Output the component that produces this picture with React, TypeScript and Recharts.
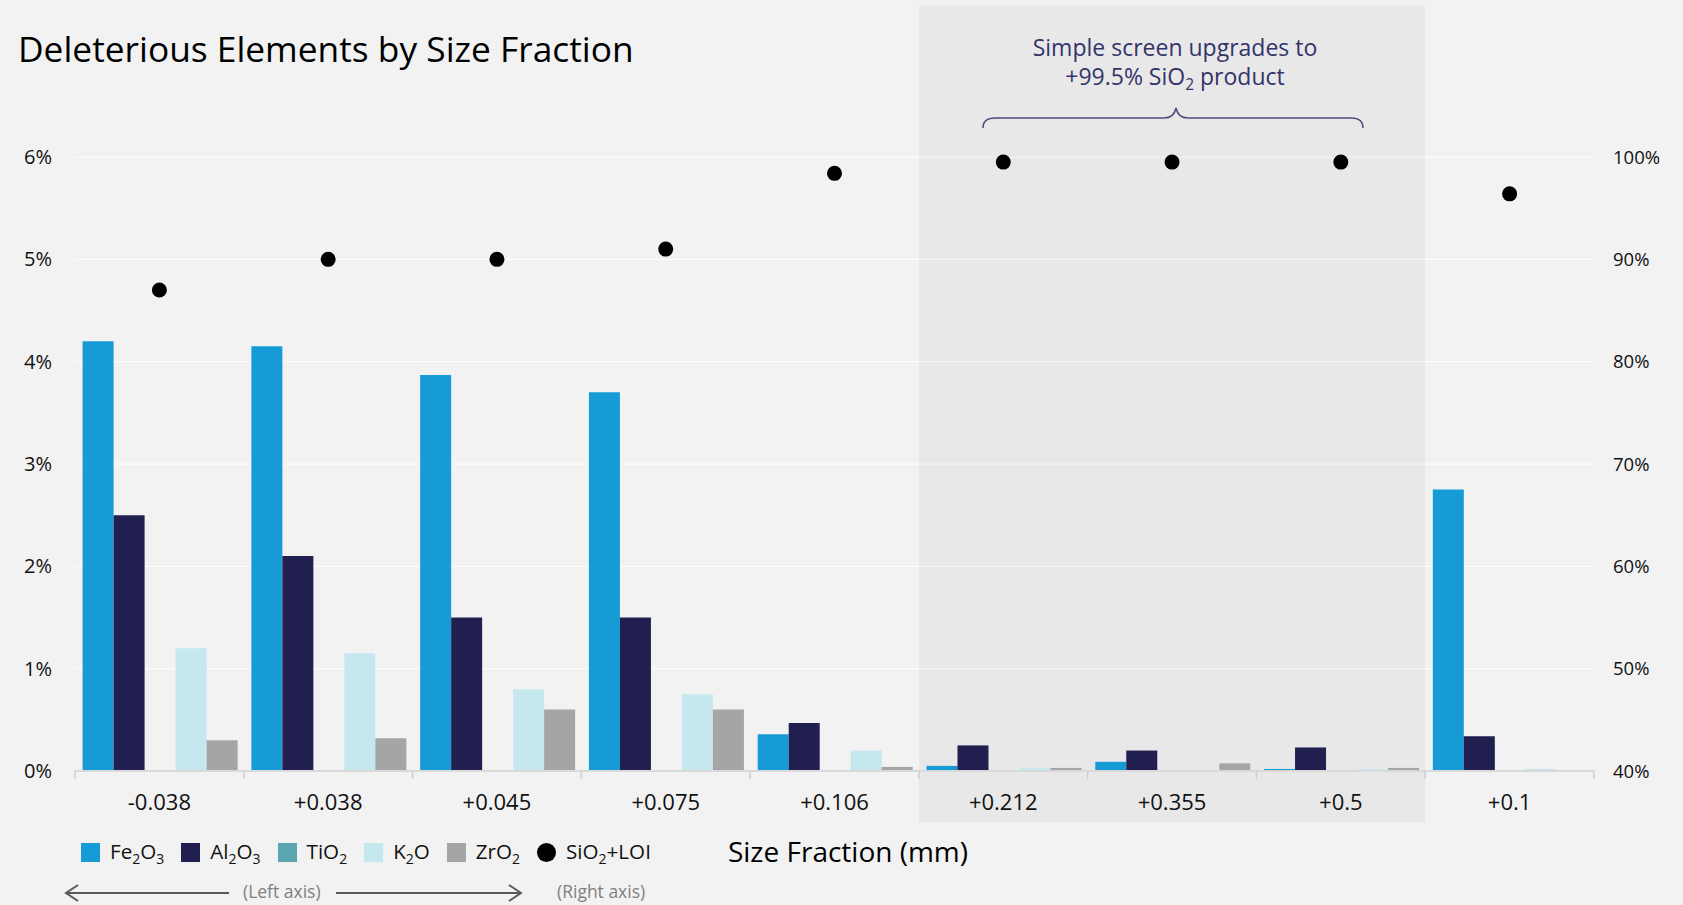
import { Bar, CartesianGrid, ComposedChart, ReferenceArea, Scatter, XAxis, YAxis } from "recharts";

const categories = ["-0.038", "+0.038", "+0.045", "+0.075", "+0.106", "+0.212", "+0.355", "+0.5", "+0.1"];
const fe2o3 = [4.2, 4.15, 3.87, 3.7, 0.36, 0.05, 0.09, 0.02, 2.75];
const al2o3 = [2.5, 2.1, 1.5, 1.5, 0.47, 0.25, 0.2, 0.23, 0.34];
const tio2 = [0, 0, 0, 0, 0, 0, 0, 0, 0];
const k2o = [1.2, 1.15, 0.8, 0.75, 0.2, 0.03, 0, 0.02, 0.02];
const zro2 = [0.3, 0.32, 0.6, 0.6, 0.04, 0.03, 0.075, 0.03, 0];
const sio2Loi = [87, 90, 90, 91, 98.4, 99.5, 99.5, 99.5, 96.4];

const leftTicks = [0, 1, 2, 3, 4, 5, 6];
const rightTicks = [40, 50, 60, 70, 80, 90, 100];

const data = categories.map((c, i) => ({
  size: c,
  fe2o3: fe2o3[i],
  al2o3: al2o3[i],
  tio2: tio2[i],
  k2o: k2o[i],
  zro2: zro2[i],
  sio2: sio2Loi[i],
}));

const COLORS = {
  fe2o3: "#179BD7",
  al2o3: "#211F4F",
  tio2: "#5AA5AF",
  k2o: "#C5E8EF",
  zro2: "#A5A5A5",
  sio2: "#000000",
};

const FONT = '"Open Sans", sans-serif';
const X_TICK_MARGIN = 23;

const Sub = ({ children }: { children: any }) => (
  <span style={{ fontSize: "0.68em", position: "relative", top: "0.35em" }}>{children}</span>
);

const legendItems = [
  { key: "fe2o3", label: <>Fe<Sub>2</Sub>O<Sub>3</Sub></>, round: false },
  { key: "al2o3", label: <>Al<Sub>2</Sub>O<Sub>3</Sub></>, round: false },
  { key: "tio2", label: <>TiO<Sub>2</Sub></>, round: false },
  { key: "k2o", label: <>K<Sub>2</Sub>O</>, round: false },
  { key: "zro2", label: <>ZrO<Sub>2</Sub></>, round: false },
  { key: "sio2", label: <>SiO<Sub>2</Sub>+LOI</>, round: true },
];

const Dot = (props: any) => <circle cx={props.cx} cy={props.cy} r={7.5} fill={COLORS.sio2} />;

// category label plus small tick marks on the band edges (Excel style)
const SizeTick = (props: any) => {
  const { x, y, payload, index, visibleTicksCount } = props;
  const half = payload.offset || 0;
  const axisY = y - X_TICK_MARGIN;
  const last = index === visibleTicksCount - 1;
  return (
    <g>
      <line x1={x - half} x2={x - half} y1={axisY} y2={axisY + 8} stroke="#CFCFCF" strokeWidth={1.5} />
      {last && <line x1={x + half} x2={x + half} y1={axisY} y2={axisY + 8} stroke="#CFCFCF" strokeWidth={1.5} />}
      <text x={x} y={y} dy="0.71em" textAnchor="middle" fill="#111" fontSize={22} fontFamily={FONT}>
        {payload.value}
      </text>
    </g>
  );
};

export default function App() {
  return (
    <div
      style={{
        position: "absolute",
        left: 0,
        top: 0,
        width: 1683,
        height: 905,
        background: "#F2F2F2",
        fontFamily: FONT,
        overflow: "hidden",
      }}
    >
      <ComposedChart
        width={1683}
        height={905}
        data={data}
        margin={{ top: 157, right: 9, bottom: 94, left: 15 }}
        barCategoryGap="4.5%"
        barGap={0}
      >
        <ReferenceArea
          xAxisId="cat"
          yAxisId="left"
          x1="+0.212"
          x2="+0.5"
          y1={-0.5}
          y2={7.48}
          ifOverflow="visible"
          fill="#000"
          fillOpacity={0.04}
          stroke="none"
        />
        <CartesianGrid yAxisId="left" xAxisId="cat" vertical={false} stroke="#FFFFFF" strokeWidth={1} />
        <XAxis
          xAxisId="cat"
          dataKey="size"
          type="category"
          axisLine={{ stroke: "#D9D9D9", strokeWidth: 2 }}
          tickLine={false}
          tickSize={0}
          tickMargin={X_TICK_MARGIN}
          height={40}
          tick={<SizeTick />}
          interval={0}
        />
        <YAxis
          yAxisId="left"
          domain={[0, 6]}
          ticks={leftTicks}
          tickFormatter={(v) => `${v}%`}
          axisLine={false}
          tickLine={false}
          tickSize={0}
          tickMargin={23}
          width={60}
          tick={{ fill: "#111", fontSize: 20, fontFamily: FONT }}
        />
        <YAxis
          yAxisId="right"
          orientation="right"
          domain={[40, 100]}
          ticks={rightTicks}
          tickFormatter={(v) => `${v}%`}
          axisLine={false}
          tickLine={false}
          tickSize={0}
          tickMargin={19}
          width={80}
          tick={{ fill: "#111", fontSize: 18.5, fontFamily: FONT }}
        />
        <Bar xAxisId="cat" yAxisId="left" dataKey="fe2o3" fill={COLORS.fe2o3} isAnimationActive={false} />
        <Bar xAxisId="cat" yAxisId="left" dataKey="al2o3" fill={COLORS.al2o3} isAnimationActive={false} />
        <Bar xAxisId="cat" yAxisId="left" dataKey="tio2" fill={COLORS.tio2} isAnimationActive={false} />
        <Bar xAxisId="cat" yAxisId="left" dataKey="k2o" fill={COLORS.k2o} isAnimationActive={false} />
        <Bar xAxisId="cat" yAxisId="left" dataKey="zro2" fill={COLORS.zro2} isAnimationActive={false} />
        <Scatter xAxisId="cat" yAxisId="right" dataKey="sio2" shape={Dot} isAnimationActive={false} />
      </ComposedChart>

      <svg
        width={1683}
        height={905}
        style={{ position: "absolute", left: 0, top: 0, pointerEvents: "none" }}
        fontFamily={FONT}
      >
        <text x={18} y={62} fontSize={35.3} fill="#000">
          Deleterious Elements by Size Fraction
        </text>

        <text x={1175} y={56} fontSize={23} fill="#34346A" textAnchor="middle">
          Simple screen upgrades to
        </text>
        <text x={1175} y={85} fontSize={23} fill="#34346A" textAnchor="middle">
          +99.5% SiO<tspan fontSize={15.5} dy={5}>2</tspan>
          <tspan dy={-5}> product</tspan>
        </text>
        <path
          d="M983 128 Q983 118 995 118 L1164 118 Q1174 118 1176 108 Q1178 118 1188 118 L1351 118 Q1363 118 1363 128"
          fill="none"
          stroke="#4B4B7B"
          strokeWidth={1.5}
        />

        <text x={848} y={862} fontSize={28} fill="#000" textAnchor="middle">
          Size Fraction (mm)
        </text>

        <line x1={66} y1={893} x2={229} y2={893} stroke="#595959" strokeWidth={2} />
        <path d="M78 885 L66 893 L78 901" fill="none" stroke="#595959" strokeWidth={2} />
        <line x1={336} y1={893} x2={521} y2={893} stroke="#595959" strokeWidth={2} />
        <path d="M509 885 L521 893 L509 901" fill="none" stroke="#595959" strokeWidth={2} />
        <text x={243} y={898} fontSize={17.5} fill="#7F7F7F">
          (Left axis)
        </text>
        <text x={557} y={898} fontSize={17.5} fill="#7F7F7F">
          (Right axis)
        </text>
      </svg>

      <div
        style={{
          position: "absolute",
          left: 81,
          top: 837,
          display: "flex",
          alignItems: "center",
          fontSize: 20.6,
          color: "#111",
          lineHeight: "28px",
        }}
      >
        {legendItems.map((it) => (
          <div key={it.key} style={{ display: "flex", alignItems: "center", marginRight: 17 }}>
            <div
              style={{
                width: 19,
                height: 19,
                background: (COLORS as any)[it.key],
                borderRadius: it.round ? "50%" : 0,
                marginRight: 10,
              }}
            />
            <span>{it.label}</span>
          </div>
        ))}
      </div>
    </div>
  );
}
